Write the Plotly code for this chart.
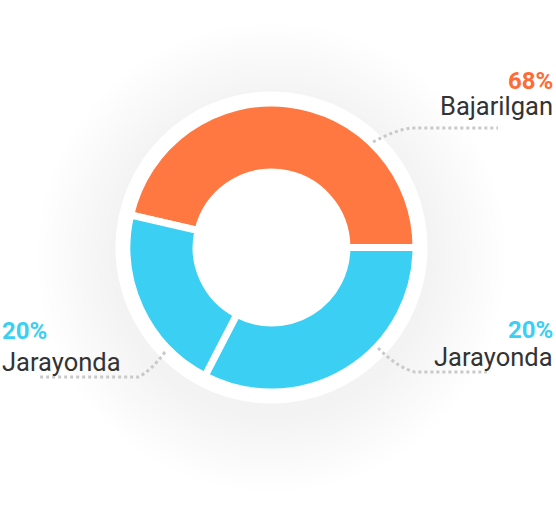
import plotly.graph_objects as go

# ---- data ----
slice_names = ["Bajarilgan", "Jarayonda (o'ng)", "Jarayonda (chap)"]
slice_values = [46.4, 32.6, 21.0]
slice_colors = ["#FF7741", "#3BCFF3", "#3BCFF3"]

label_pcts = ["68%", "20%", "20%"]
label_names = ["Bajarilgan", "Jarayonda", "Jarayonda"]
label_colors = ["#FF6B35", "#3BCFF3", "#3BCFF3"]

W, H = 556, 512
cx, cy = 271.5, 247.5   # center in pixels (from top)
R = 144.5

fig = go.Figure()

fig.add_trace(go.Pie(
    values=slice_values,
    labels=slice_names,
    marker=dict(colors=slice_colors, line=dict(color="white", width=7)),
    hole=0.522,
    sort=False,
    direction="clockwise",
    rotation=-77,
    textinfo="none",
    hoverinfo="label+value",
    showlegend=False,
    domain=dict(x=[(cx - R) / W, (cx + R) / W],
                y=[(H - cy - R) / H, (H - cy + R) / H]),
))

shapes = []
# soft shadow
n = 12
for i in range(n, 0, -1):
    r = 156 + i * 6.5
    shapes.append(dict(type="circle", xref="x", yref="y",
                       x0=cx - r, x1=cx + r, y0=cy + 10 - r, y1=cy + 10 + r,
                       fillcolor="rgba(0,0,0,0.0045)", line=dict(width=0), layer="below"))
# white disc
rw = 156
shapes.append(dict(type="circle", xref="x", yref="y",
                   x0=cx - rw, x1=cx + rw, y0=cy - rw, y1=cy + rw,
                   fillcolor="white", line=dict(width=0), layer="below"))

dot = dict(color="#C9C9C9", width=3, dash="dot")
shapes.append(dict(type="path", xref="x", yref="y",
                   path="M 373 142 Q 395 130 412 128 L 498 128", line=dot, layer="above"))
shapes.append(dict(type="path", xref="x", yref="y",
                   path="M 165 352 Q 150 372 138 377 L 38 377", line=dot, layer="above"))
shapes.append(dict(type="path", xref="x", yref="y",
                   path="M 378 348 Q 398 368 415 372 L 487 372", line=dot, layer="above"))

annotations = []
font_pct = "Roboto"
pct_size = 24
name_size = 25.5
# top-right
annotations.append(dict(x=555, y=81, xref="x", yref="y", text="<b>" + label_pcts[0] + "</b>",
                        showarrow=False, xanchor="right", yanchor="middle",
                        font=dict(family=font_pct, size=pct_size, color=label_colors[0])))
annotations.append(dict(x=555, y=106, xref="x", yref="y", text=label_names[0],
                        showarrow=False, xanchor="right", yanchor="middle",
                        font=dict(family=font_pct, size=name_size, color="#333333")))
# left
annotations.append(dict(x=0, y=331, xref="x", yref="y", text="<b>" + label_pcts[1] + "</b>",
                        showarrow=False, xanchor="left", yanchor="middle",
                        font=dict(family=font_pct, size=pct_size, color=label_colors[1])))
annotations.append(dict(x=0, y=362, xref="x", yref="y", text=label_names[1],
                        showarrow=False, xanchor="left", yanchor="middle",
                        font=dict(family=font_pct, size=name_size, color="#333333")))
# right
annotations.append(dict(x=555, y=330, xref="x", yref="y", text="<b>" + label_pcts[2] + "</b>",
                        showarrow=False, xanchor="right", yanchor="middle",
                        font=dict(family=font_pct, size=pct_size, color=label_colors[2])))
annotations.append(dict(x=555, y=357, xref="x", yref="y", text=label_names[2],
                        showarrow=False, xanchor="right", yanchor="middle",
                        font=dict(family=font_pct, size=name_size, color="#333333")))

fig.update_layout(
    width=W, height=H,
    margin=dict(l=0, r=0, t=0, b=0),
    paper_bgcolor="white", plot_bgcolor="rgba(0,0,0,0)",
    xaxis=dict(range=[0, W], visible=False, fixedrange=True),
    yaxis=dict(range=[H, 0], visible=False, fixedrange=True),
    shapes=shapes, annotations=annotations,
    showlegend=False,
)

fig.write_html("out.html", config={"displayModeBar": False},
               post_script="document.body.style.margin='0';document.body.style.padding='0';")
